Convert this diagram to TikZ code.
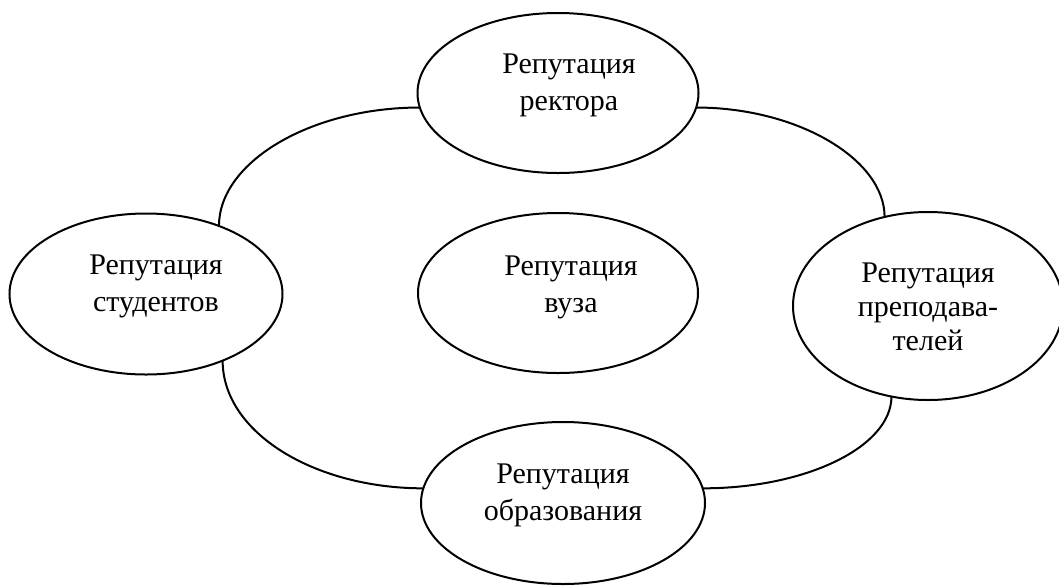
\documentclass[tikz,border=0pt]{standalone}
\usepackage{fontspec}
\setmainfont{Liberation Serif}
\usetikzlibrary{shapes.geometric}
\begin{document}
\begin{tikzpicture}[x=1pt,y=-1pt,
  oval/.style={draw,ellipse,line width=2pt,inner sep=0pt,outer sep=0pt},
  lbl/.style={anchor=base,align=center,inner sep=0pt,font=\fontsize{30}{37}\selectfont},
  link/.style={line width=2pt}]
\useasboundingbox (0,0) rectangle (1059,587);
\node[oval,minimum width=281pt,minimum height=160pt] (T) at (558,93) {};
\node[oval,minimum width=273pt,minimum height=161pt] (L) at (146,294) {};
\node[oval,minimum width=280pt,minimum height=160pt] (C) at (558,293) {};
\node[oval,minimum width=270pt,minimum height=188pt] (R) at (928,306) {};
\node[oval,minimum width=284pt,minimum height=162pt] (B) at (563,503) {};
\node[lbl] (Tt) at (569,110) {Репутация\\ректора};
\node[lbl] (Lt) at (156,311) {Репутация\\студентов};
\node[lbl] (Ct) at (571,312) {Репутация\\вуза};
\node[lbl,font=\fontsize{30}{34}\selectfont] (Rt) at (928,350) {Репутация\\преподава-\\телей};
\node[lbl] (Bt) at (563,520) {Репутация\\образования};
\draw[link] (L.43.8) .. controls +(0,-64) and +(-109,0) .. (T.-174.3);
\draw[link] (T.-6) .. controls +(101,0) and +(0,-58) .. (R.116.3);
\draw[link] (R.248.4) .. controls +(0,50) and +(104,0) .. (B.6.5);
\draw[link] (B.174.9) .. controls +(-109,0) and +(0,72) .. (L.-41.7);
\end{tikzpicture}
\end{document}
